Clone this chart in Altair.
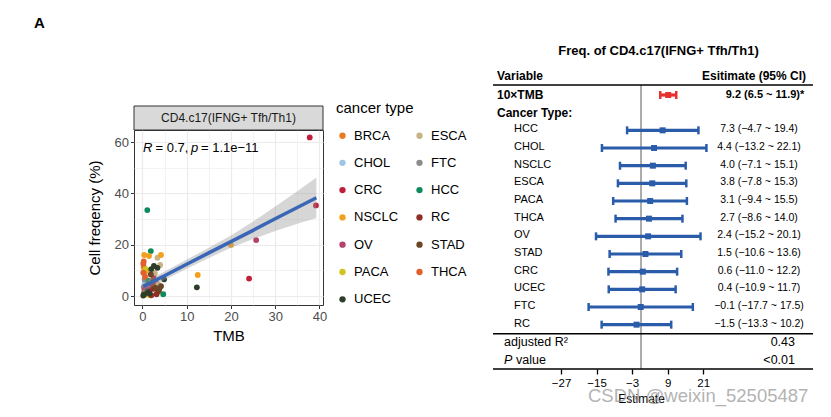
import altair as alt
import pandas as pd

FONT = "Liberation Sans"

# ---------------- scatter (left panel) ----------------
# legend is laid out column by column: first column, then second column
cancer_types = ["BRCA", "CHOL", "CRC", "NSCLC", "OV", "PACA", "UCEC",
                "ESCA", "FTC", "HCC", "RC", "STAD", "THCA"]
type_colors = ["#E97A1F", "#9DC5E6", "#C11E3A", "#F1A11F", "#B4426C", "#CFC41E", "#2E3D2A",
               "#C8B385", "#8C8C8C", "#0D8A5C", "#8E2F26", "#6B4526", "#E0612C"]

pt_type = (["BRCA"] * 4 + ["CHOL"] * 3 + ["CRC"] * 6 + ["ESCA"] * 4 + ["FTC"] * 3 +
           ["HCC"] * 5 + ["NSCLC"] * 7 + ["OV"] * 3 + ["PACA"] * 3 + ["RC"] * 5 +
           ["STAD"] * 5 + ["THCA"] * 4 + ["UCEC"] * 9)
pt_tmb = [0.6, 1.2, 1.0, 0.3,
          0.5, 1.5, 0.8,
          37.8, 39.2, 24.1, 3.0, 2.5, 1.8,
          3.4, 4.0, 2.8, 3.6,
          0.3, 0.5, 0.4,
          1.1, 1.9, 4.7, 1.3, 0.8,
          20.0, 12.5, 0.4, 1.5, 4.2, 0.9, 2.2,
          25.7, 0.5, 1.0,
          0.7, 0.6, 1.3,
          2.3, 3.6, 3.2, 2.0, 2.6,
          1.9, 3.0, 3.8, 4.2, 2.4,
          0.2, 0.2, 0.3, 0.6,
          12.3, 2.6, 3.4, 4.9, 1.1, 0.4, 2.0, 1.6, 0.2]
pt_freq = [9.5, 4.5, 2.0, 11.2,
           5.2, 3.0, 1.0,
           61.8, 35.3, 6.8, 5.2, 7.5, 2.5,
           14.9, 12.1, 9.0, 4.5,
           3.5, 6.5, 1.5,
           33.5, 17.5, 0.7, 6.0, 3.0,
           19.9, 8.2, 16.0, 15.6, 16.0, 10.0, 5.8,
           21.8, 2.5, 4.0,
           10.6, 1.2, 0.5,
           3.9, 1.9, 0.7, 0.3, 2.8,
           8.4, 3.2, 2.5, 3.8, 6.0,
           12.6, 9.1, 13.5, 7.5,
           3.4, 11.7, 11.0, 6.5, 1.9, 0.7, 10.5, 1.0, 0.2]

# fitted line and 95% band
fit_tmb = [0.2, 3, 5, 10, 15, 20, 25, 30, 35, 39.3]
fit_val = [3.7, 6.2, 7.9, 12.4, 16.8, 21.2, 25.6, 30.1, 34.5, 38.3]
fit_lo = [1.3, 4.5, 6.2, 10.6, 14.8, 18.8, 22.2, 25.3, 28.2, 30.4]
fit_hi = [6.1, 7.9, 9.6, 14.2, 18.8, 23.6, 29.0, 34.9, 40.8, 46.2]

# ---------------- forest (right panel) ----------------
row_keys = ["10×TMB", "Cancer Type:", "HCC", "CHOL", "NSCLC", "ESCA", "PACA", "THCA",
            "OV", "STAD", "CRC", "UCEC", "FTC", "RC", "adjusted R²", "P value"]
f_var = ["10×TMB", "HCC", "CHOL", "NSCLC", "ESCA", "PACA", "THCA", "OV", "STAD",
         "CRC", "UCEC", "FTC", "RC"]
f_est = [9.2, 7.3, 4.4, 4.0, 3.8, 3.1, 2.7, 2.4, 1.5, 0.6, 0.4, -0.1, -1.5]
f_lo = [6.5, -4.7, -13.2, -7.1, -7.8, -9.4, -8.6, -15.2, -10.6, -11.0, -10.9, -17.7, -13.3]
f_hi = [11.9, 19.4, 22.1, 15.1, 15.3, 15.5, 14.0, 20.1, 13.6, 12.2, 11.7, 17.5, 10.2]
f_sig = ["*", "", "", "", "", "", "", "", "", "", "", "", ""]
stat_names = ["adjusted R²", "P value"]
stat_vals = ["0.43", "<0.01"]
forest_ticks = [-27, -15, -3, 9, 21]


def fmt(v):
    return f"{v:.1f}".replace("-", "\u2212")


f_text = [f"{fmt(e)} ({fmt(l)} ~ {fmt(h)}){s}" for e, l, h, s in zip(f_est, f_lo, f_hi, f_sig)]

# ======================= LEFT CHART =======================
W1, H1 = 189, 175
pts = pd.DataFrame({"type": pt_type, "tmb": pt_tmb, "freq": pt_freq})
fit = pd.DataFrame({"tmb": fit_tmb, "fit": fit_val, "lo": fit_lo, "hi": fit_hi})
one = pd.DataFrame({"k": [0]})

m10 = "datum.value % 10 === 0"
m20 = "datum.value % 20 === 0"
xsc = alt.Scale(domain=[-1.9, 40.8], nice=False, zero=False)
ysc = alt.Scale(domain=[-3.5, 64.7], nice=False, zero=False)
xax = alt.Axis(values=[0, 5, 10, 15, 20, 25, 30, 35, 40], title="TMB",
               labelExpr=f"{m10} ? datum.label : ''", labelOverlap=False,
               gridColor="#EBEBEB",
               gridWidth={"condition": {"test": m10, "value": 1.2}, "value": 0.6},
               tickOpacity={"condition": {"test": m10, "value": 1}, "value": 0},
               tickColor="#333333", tickSize=3.5, tickWidth=1,
               labelColor="#4D4D4D", labelFontSize=13, labelPadding=2,
               titleFontSize=15, titleFontWeight="normal", titleColor="black",
               titlePadding=5, domain=False)
yax = alt.Axis(values=[0, 10, 20, 30, 40, 50, 60], title="Cell freqency (%)",
               labelExpr=f"{m20} ? datum.label : ''", labelOverlap=False,
               gridColor="#EBEBEB",
               gridWidth={"condition": {"test": m20, "value": 1.2}, "value": 0.6},
               tickOpacity={"condition": {"test": m20, "value": 1}, "value": 0},
               tickColor="#333333", tickSize=3.5, tickWidth=1,
               labelColor="#4D4D4D", labelFontSize=13, labelPadding=2,
               titleFontSize=15, titleFontWeight="normal", titleColor="black",
               titlePadding=12, domain=False)

points = alt.Chart(pts).mark_circle(size=34, opacity=1).encode(
    x=alt.X("tmb:Q", scale=xsc, axis=xax),
    y=alt.Y("freq:Q", scale=ysc, axis=yax),
    color=alt.Color("type:N", scale=alt.Scale(domain=cancer_types, range=type_colors),
                    legend=alt.Legend(title="cancer type", orient="none", legendX=202, legendY=-29,
                                      columns=2, titleFontSize=15, titleFontWeight="normal",
                                      titleColor="black", titlePadding=13, labelFontSize=13,
                                      labelColor="black", symbolType="circle", symbolSize=40,
                                      symbolStrokeWidth=0, labelOffset=5, rowPadding=13.3,
                                      columnPadding=14)),
)
band = alt.Chart(fit).mark_area(color="#999999", opacity=0.4).encode(
    x=alt.X("tmb:Q", scale=xsc, axis=xax),
    y=alt.Y("lo:Q", scale=ysc, axis=yax),
    y2="hi:Q",
)
line = alt.Chart(fit).mark_line(color="#3A66B6", strokeWidth=3.5).encode(
    x=alt.X("tmb:Q", scale=xsc, axis=xax),
    y=alt.Y("fit:Q", scale=ysc, axis=yax),
)
strip = alt.Chart(one).mark_rect(fill="#D9D9D9", stroke="#333333", strokeWidth=1).encode(
    x=alt.value(0), x2=alt.value(W1), y=alt.value(-24), y2=alt.value(0))
strip_txt = alt.Chart(one).mark_text(text="CD4.c17(IFNG+ Tfh/Th1)", fontSize=12, color="#1A1A1A",
                                     baseline="middle").encode(
    x=alt.value(W1 / 2), y=alt.value(-12))
ann = [
    alt.Chart(one).mark_text(text="R", fontStyle="italic", fontSize=13, align="left", baseline="middle",
                             color="black").encode(x=alt.value(9), y=alt.value(18)),
    alt.Chart(one).mark_text(text="= 0.7,", fontSize=13, align="left", baseline="middle",
                             color="black").encode(x=alt.value(21.5), y=alt.value(18)),
    alt.Chart(one).mark_text(text="p", fontStyle="italic", fontSize=13, align="left", baseline="middle",
                             color="black").encode(x=alt.value(57), y=alt.value(18)),
    alt.Chart(one).mark_text(text="= 1.1e\u221211", fontSize=13, align="left", baseline="middle",
                             color="black").encode(x=alt.value(67), y=alt.value(18)),
]
letter_a = alt.Chart(one).mark_text(text="A", fontSize=15, fontWeight="bold", align="left",
                                    baseline="alphabetic", color="black").encode(
    x=alt.value(-100), y=alt.value(-102.3))

left = alt.layer(points, band, line, strip, strip_txt, *ann, letter_a).properties(
    width=W1, height=H1, view=alt.ViewBackground(stroke="#333333", strokeWidth=1))

# ======================= RIGHT CHART =======================
# plot area top is aligned with the left panel (page y 129); table rows sit above it
W2, H2 = 320, 239
TOP = -45
fdf = pd.DataFrame({"var": f_var, "est": f_est, "lo": f_lo, "hi": f_hi, "txt": f_text,
                    "grp": ["tmb"] + ["ct"] * (len(f_var) - 1)})
bold_rows = pd.DataFrame({"var": ["10×TMB", "Cancer Type:"]})
sub_rows = pd.DataFrame({"var": f_var[1:]})
sdf = pd.DataFrame({"var": stat_names, "val": stat_vals})
zero_df = pd.DataFrame({"z": [0]})

xsc2 = alt.Scale(domain=[-50, 58.1], nice=False, zero=False)
xax2 = alt.Axis(values=forest_ticks, title="Estimate", domain=False, grid=False,
                tickColor="black", tickWidth=1.3, tickSize=5, labelFontSize=11.5,
                labelColor="black", labelPadding=3, titleFontSize=12,
                titleFontWeight="normal", titleColor="black", titleX=148, titleY=29,
                titleBaseline="middle", labelFlush=False)
ysc2 = alt.Scale(domain=row_keys, type="point", range=[-35, 230], padding=0)
Y = alt.Y("var:N", scale=ysc2, axis=None)
col = alt.condition("datum.grp == 'tmb'", alt.value("#E8312F"), alt.value("#2A5CAA"))

zero_line = alt.Chart(zero_df).mark_rule(color="#7F7F7F", strokeWidth=1.3).encode(
    x=alt.X("z:Q", scale=xsc2, axis=xax2), y=alt.value(TOP), y2=alt.value(H2))
ci = alt.Chart(fdf).mark_rule(strokeWidth=3.2).encode(
    x=alt.X("lo:Q", scale=xsc2, axis=xax2), x2="hi:Q", y=Y, color=col)
cap_lo = alt.Chart(fdf).mark_tick(thickness=2.5, size=8, opacity=1).encode(
    x=alt.X("lo:Q", scale=xsc2, axis=xax2), y=Y, color=col)
cap_hi = alt.Chart(fdf).mark_tick(thickness=2.5, size=8, opacity=1).encode(
    x=alt.X("hi:Q", scale=xsc2, axis=xax2), y=Y, color=col)
center = alt.Chart(fdf).mark_square(size=36, opacity=1).encode(
    x=alt.X("est:Q", scale=xsc2, axis=xax2), y=Y, color=col)

hlines = [
    alt.Chart(one).mark_rule(color="black", strokeWidth=1.5).encode(
        x=alt.value(0), x2=alt.value(W2), y=alt.value(yy))
    for yy in (TOP, 203.7, H2)
]
title_txt = alt.Chart(one).mark_text(text="Freq. of CD4.c17(IFNG+ Tfh/Th1)", fontSize=13,
                                     fontWeight="bold", baseline="middle", color="black").encode(
    x=alt.value(165.5), y=alt.value(-79))
hdr_l = alt.Chart(one).mark_text(text="Variable", fontSize=12, fontWeight="bold", align="left",
                                 baseline="middle", color="black").encode(x=alt.value(4), y=alt.value(-54))
hdr_r = alt.Chart(one).mark_text(text="Esitimate (95% CI)", fontSize=12, fontWeight="bold",
                                 align="right", baseline="middle", color="black").encode(
    x=alt.value(313), y=alt.value(-54))
lab_bold = alt.Chart(bold_rows).mark_text(fontSize=12, fontWeight="bold", align="left",
                                          baseline="middle", color="black").encode(
    x=alt.value(4), y=Y, text="var:N")
lab_sub = alt.Chart(sub_rows).mark_text(fontSize=11, align="left", baseline="middle",
                                        color="black", dy=-1).encode(
    x=alt.value(21), y=Y, text="var:N")
est_tmb = alt.Chart(fdf[fdf.grp == "tmb"]).mark_text(fontSize=11, fontWeight="bold",
                                                      baseline="middle", color="black").encode(
    x=alt.value(272), y=Y, text="txt:N")
est_ct = alt.Chart(fdf[fdf.grp == "ct"]).mark_text(fontSize=10.5, baseline="middle", color="black",
                                                    dy=-1).encode(
    x=alt.value(266), y=Y, text="txt:N")
stat_r2 = alt.Chart(sdf[sdf["var"] == "adjusted R²"]).mark_text(fontSize=12.5, align="left",
                                                                 baseline="middle", color="black").encode(
    x=alt.value(11), y=Y, text="var:N")
stat_p = alt.Chart(sdf[sdf["var"] == "P value"]).mark_text(text="P", fontSize=12.5, fontStyle="italic",
                                                            align="left", baseline="middle",
                                                            color="black").encode(
    x=alt.value(11), y=Y)
stat_p2 = alt.Chart(sdf[sdf["var"] == "P value"]).mark_text(text="value", fontSize=12.5, align="left",
                                                             baseline="middle", color="black").encode(
    x=alt.value(23), y=Y)
stat_v = alt.Chart(sdf).mark_text(fontSize=12.5, align="right", baseline="middle", color="black").encode(
    x=alt.value(302), y=Y, text="val:N")
watermark = alt.Chart(one).mark_text(text="CSDN @weixin_52505487", fontSize=18.5, align="left",
                                     baseline="middle", color="#9A9A9A", opacity=0.75).encode(
    x=alt.value(95), y=alt.value(266))

right = alt.layer(zero_line, ci, cap_lo, cap_hi, center, *hlines, title_txt, hdr_l, hdr_r,
                  lab_bold, lab_sub, est_tmb, est_ct, stat_r2, stat_p, stat_p2, stat_v,
                  watermark).properties(
    width=W2, height=H2, view=alt.ViewBackground(stroke=None))

chart = alt.hconcat(left, right, spacing=164).properties(
    padding={"left": 25, "top": 7, "right": 2, "bottom": 2}
).configure(font=FONT)

chart.save("out.html", embed_options={"renderer": "svg", "actions": False})
